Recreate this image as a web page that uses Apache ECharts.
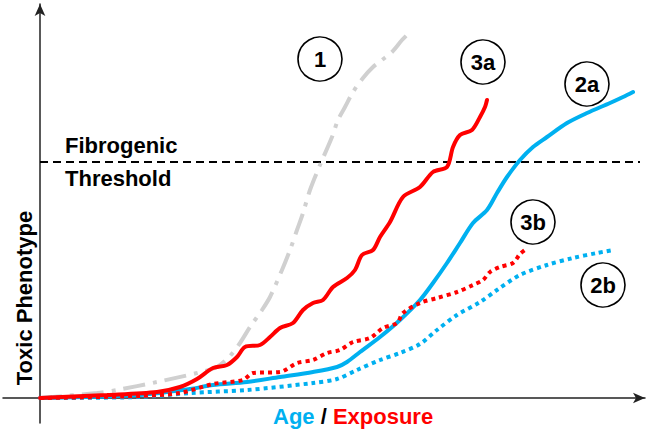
<!DOCTYPE html>
<html>
<head>
<meta charset="utf-8">
<script src="https://cdn.jsdelivr.net/npm/echarts@6/dist/echarts.min.js"></script>
<style>
html,body{margin:0;padding:0;background:#fff;}
#chart{width:653px;height:432px;}
</style>
</head>
<body>
<div id="chart"></div>
<script>
// Curve values: [age/exposure, toxic phenotype]
const curve1 = [[0,0],[57,5],[77,8],[117,16],[157,25],[177,31],[190,42],[200,55],[210,71],[222,88],[230,101],[242,128],[250,148],[257,168],[263,185],[270,208],[280,233],[292,261],[298,278],[305,291],[313,306],[323,320],[333,331],[342,338],[352,346],[362,358],[370,366]];
const curve3a = [[0,0],[67,3],[117,6],[140,11],[157,19],[173,30],[187,33],[197,41],[205,51],[220,53],[230,61],[240,70],[253,75],[263,88],[273,95],[283,98],[293,111],[307,120],[315,128],[322,143],[333,148],[340,161],[350,176],[363,201],[380,211],[393,226],[407,231],[413,251],[420,263],[432,268],[440,281],[445,291],[447,298]];
const curve2a = [[0,0],[100,3],[150,9],[173,13],[207,16],[240,21],[273,26],[297,31],[307,36],[320,46],[340,61],[360,78],[380,98],[393,115],[407,135],[420,155],[433,175],[447,188],[457,205],[467,221],[480,238],[493,251],[507,261],[527,275],[547,285],[570,295],[583,301],[593,306]];
const curve2b = [[0,0],[100,1],[150,5],[207,8],[273,15],[297,19],[317,28],[340,38],[360,45],[380,54],[397,68],[417,83],[440,96],[457,108],[480,123],[507,133],[533,140],[557,145],[573,148]];
const curve3b = [[0,0],[100,2],[140,5],[173,14],[203,18],[213,25],[240,26],[257,35],[273,38],[287,45],[300,48],[313,56],[330,60],[343,70],[357,75],[363,85],[380,95],[397,100],[417,106],[433,113],[443,118],[450,126],[460,131],[473,135],[480,144],[485,148]];
const threshold = 236;
const thresholdSpan = [0, 600];
const labelNames = ['1','3a','2a','3b','2b'];
const labelPos = [[280,339],[443,336],[547,314],[493,176],[563,113]];

const BLUE = '#00B0F0', RED = '#FF0000', GRAY = '#D0D0D0';
const FONT = 'bold 22px "Liberation Sans", Arial, sans-serif';

const chart = echarts.init(document.getElementById('chart'), null, {renderer:'svg'});
const lineSeries = (data, color, type, smooth) => ({
  type:'line', data, symbol:'none', smooth: smooth, animation:false, silent:true,
  lineStyle:{color, width:4, type, cap: type === 'solid' ? 'round' : 'butt'}
});
chart.setOption({
  animation:false,
  grid:{left:3, right:8, top:4, bottom:9},
  xAxis:{type:'value', min:-37, max:605,
    axisLine:{onZero:true, symbol:['none','arrow'], symbolSize:[8,12], lineStyle:{color:'#222', width:1.5}},
    axisTick:{show:false}, axisLabel:{show:false}, splitLine:{show:false}},
  yAxis:{type:'value', min:-25, max:394,
    axisLine:{show:true, onZero:true, symbol:['none','arrow'], symbolSize:[8,12], lineStyle:{color:'#222', width:1.5}},
    axisTick:{show:false}, axisLabel:{show:false}, splitLine:{show:false}},
  series:[
    {type:'line', data: thresholdSpan.map(x => [x, threshold]), symbol:'none', silent:true,
      lineStyle:{color:'#000', width:2, type:[8,5]}},
    lineSeries(curve1, GRAY, [22,8,4,8], 0.3),
    lineSeries(curve2b, BLUE, [4,4], 0.3),
    lineSeries(curve2a, BLUE, 'solid', 0.3),
    lineSeries(curve3b, RED, [4,4], 0.3),
    lineSeries(curve3a, RED, 'solid', 0.3),
    {type:'scatter', symbol:'circle', symbolSize:44, z:5, silent:true,
      emphasis:{disabled:true},
      data: labelPos.map((p,i) => ({value:p, name:labelNames[i]})),
      itemStyle:{color:'#ffffff', opacity:1, borderColor:'#000000', borderWidth:1.6, shadowBlur:0},
      label:{show:true, position:'inside', formatter: p => p.name,
        color:'#000', fontSize:22, fontWeight:'bold', textBorderWidth:0,
        fontFamily:'"Liberation Sans", Arial, sans-serif'}}
  ],
  graphic:[
    {type:'text', x:65, y:145, style:{text:'Fibrogenic', font:FONT, fill:'#000', textVerticalAlign:'middle'}},
    {type:'text', x:65, y:178, style:{text:'Threshold', font:FONT, fill:'#000', textVerticalAlign:'middle'}},
    {type:'text', x:24, y:298, rotation:Math.PI/2, style:{text:'Toxic Phenotype', font:FONT, fill:'#000', textAlign:'center', textVerticalAlign:'middle'}},
    {type:'text', x:273, y:416, style:{text:'{a|Age} {s|/} {e|Exposure}', textVerticalAlign:'middle', font:FONT,
      rich:{
        a:{fill:BLUE, font:FONT},
        s:{fill:'#000', font:FONT},
        e:{fill:RED, font:FONT}
      }}}
  ]
});
</script>
</body>
</html>
